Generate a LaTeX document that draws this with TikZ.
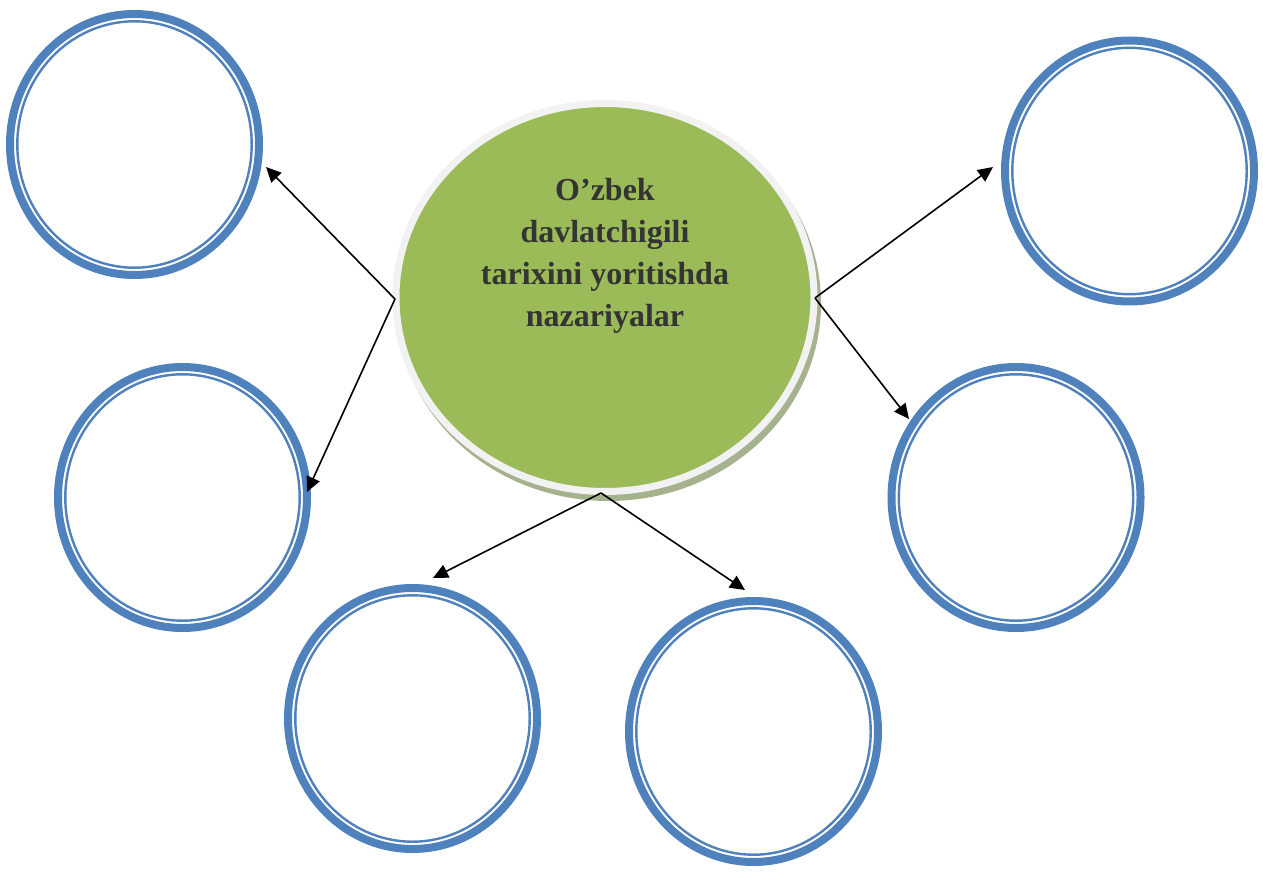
\documentclass[tikz,border=0pt]{standalone}
\usepackage{fontspec}
\setmainfont{Liberation Serif}
\usetikzlibrary{shapes.geometric,arrows.meta}
\definecolor{ringblue}{HTML}{4F81BD}
\definecolor{leafgreen}{HTML}{9BBB59}
\definecolor{rimgrey}{HTML}{F2F2F2}
\definecolor{shadowc}{RGB}{166,178,142}
\definecolor{textgrey}{RGB}{52,52,52}
\tikzset{
  ring/.style={ellipse, draw=ringblue, line width=8pt, fill=white,
    minimum width=249pt, minimum height=261pt, inner sep=0pt, outer sep=0pt,
    path picture={\draw[ringblue, line width=2.4pt] (path picture bounding box.center)
      ellipse [x radius=117.2pt, y radius=123.2pt];}},
  hub/.style={ellipse, draw=rimgrey, line width=7pt, fill=leafgreen,
    minimum width=418pt, minimum height=388pt, inner sep=0pt, outer sep=0pt},
  hubshadow/.style={ellipse, fill=shadowc, draw=none,
    minimum width=425pt, minimum height=395pt, inner sep=0pt, outer sep=0pt},
  conn/.style={draw=black, line width=1.6pt, -{Triangle[length=15pt,width=14pt]}},
  hubtext/.style={text=textgrey, font=\bfseries\fontsize{32}{42}\selectfont,
    align=center, inner sep=0pt}
}
\begin{document}
\begin{tikzpicture}[x=1pt,y=-1pt]
\useasboundingbox (0,0) rectangle (1263,877);
% outer circles
\node[ring] (c1) at (134.5,144.5) {};
\node[ring] (c2) at (182.5,497.5) {};
\node[ring] (c3) at (412.5,718.5) {};
\node[ring] (c4) at (753.5,731.5) {};
\node[ring] (c5) at (1016,497.5) {};
\node[ring] (c6) at (1129.5,171) {};
% central hub
\node[hubshadow] (hs) at (608.5,303.5) {};
\node[hub] (hub) at (605,297.5) {};
\node[hubtext] (title) at (605,256) {O’zbek\\davlatchigili\\tarixini yoritishda\\nazariyalar};
% junction points and arrow tips
\coordinate (jl) at (395,299);
\coordinate (jr) at (815,298);
\coordinate (jb) at (601,493);
\coordinate (t1) at (266,167);
\coordinate (t2) at (307,492);
\coordinate (t3) at (433,578);
\coordinate (t4) at (745,590);
\coordinate (t5) at (909,419);
\coordinate (t6) at (993,167);
% connectors
\draw[conn] (jl) -- (t1);
\draw[conn] (jl) -- (t2);
\draw[conn] (jb) -- (t3);
\draw[conn] (jb) -- (t4);
\draw[conn] (jr) -- (t5);
\draw[conn] (jr) -- (t6);
\end{tikzpicture}
\end{document}
